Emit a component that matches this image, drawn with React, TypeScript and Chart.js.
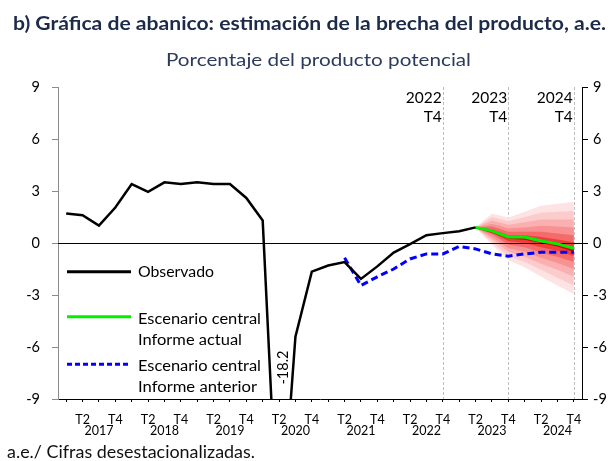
import React, { useEffect, useRef } from 'react';
import { Chart, registerables } from 'chart.js';

Chart.register(...registerables);

// ---------- data ----------
const years = ['2017', '2018', '2019', '2020', '2021', '2022', '2023', '2024'];
const quarters = ['T1', 'T2', 'T3', 'T4'];
const quarterTicks = ['', 'T2', '', 'T4'];
const categories = years.flatMap((y) => quarters.map((q) => `${y}${q}`));

const observadoStart = '2017T1';
const observado = [
  1.7, 1.6, 1.0, 2.05,
  3.4, 2.95, 3.5, 3.4,
  3.5, 3.4, 3.4, 2.6,
  1.3, -18.2, -5.4, -1.65,
  -1.3, -1.1, -2.07, -1.35,
  -0.55, -0.07, 0.45, 0.57,
  0.68, 0.9,
];

const actualStart = '2023T2';
const escenarioActual = [0.9, 0.7, 0.35, 0.35, 0.12, -0.05, -0.3];

const anteriorStart = '2021T2';
const escenarioAnterior = [
  -0.85, -2.45, -1.95, -1.5, -0.92, -0.63, -0.63, -0.2, -0.34, -0.63, -0.76, -0.63, -0.53, -0.53, -0.53,
];

const fanStart = '2023T2';
const fanMedian = [0.9, 0.65, 0.3, 0.25, 0.05, -0.15, -0.45];
const fanUpper1 = [0.9, 1.7, 1.45, 1.8, 2.15, 2.27, 2.36];
const fanLower1 = [0.9, -0.1, -1.0, -1.4, -1.95, -2.45, -2.94];
const fanUpper2 = [0.9, 1.5, 1.25, 1.5, 1.75, 1.8, 1.85];
const fanLower2 = [0.9, 0.05, -0.75, -1.1, -1.55, -2.0, -2.45];
const fanUpper3 = [0.9, 1.3, 1.05, 1.2, 1.35, 1.35, 1.35];
const fanLower3 = [0.9, 0.2, -0.5, -0.8, -1.2, -1.55, -1.95];
const fanUpper4 = [0.9, 1.1, 0.85, 0.9, 1.0, 0.95, 0.9];
const fanLower4 = [0.9, 0.35, -0.3, -0.5, -0.85, -1.15, -1.5];
const fanUpper5 = [0.9, 0.95, 0.65, 0.65, 0.65, 0.55, 0.45];
const fanLower5 = [0.9, 0.5, -0.1, -0.25, -0.55, -0.8, -1.1];
const fanUpper6 = [0.9, 0.8, 0.45, 0.45, 0.35, 0.2, 0.05];
const fanLower6 = [0.9, 0.6, 0.1, 0.0, -0.25, -0.45, -0.75];

const markerQuarters = ['2022T4', '2023T4', '2024T4'];
const markerYears = ['2022', '2023', '2024'];
const markerQuarterLabel = 'T4';

const troughLabel = '-18.2';
const yMin = -9;
const yMax = 9;
const yStep = 3;

const titleText = 'b) Gráfica de abanico: estimación de la brecha del producto, a.e.';
const subtitleText = 'Porcentaje del producto potencial';
const footerText = 'a.e./ Cifras desestacionalizadas.';
const legendObservado = 'Observado';
const legendActual = ['Escenario central', 'Informe actual'];
const legendAnterior = ['Escenario central', 'Informe anterior'];

// ---------- helpers ----------
const FONT = 'Lato, "Open Sans", sans-serif';

function place(start: string, values: number[]): (number | null)[] {
  const idx = categories.indexOf(start);
  return categories.map((_, i) => (i >= idx && i - idx < values.length ? values[i - idx] : null));
}

function fitText(
  ctx: CanvasRenderingContext2D,
  text: string,
  x: number,
  y: number,
  width: number,
  size: number,
  weight: string,
  color: string
) {
  ctx.save();
  ctx.font = `${weight} ${size}px ${FONT}`;
  ctx.fillStyle = color;
  ctx.textBaseline = 'alphabetic';
  ctx.textAlign = 'left';
  const w = ctx.measureText(text).width;
  ctx.translate(x, y);
  ctx.scale(width / w, 1);
  ctx.fillText(text, 0, 0);
  ctx.restore();
}

const fanColors = ['#fde3e3', '#fccccc', '#fab0b0', '#f89191', '#f56a6a', '#f03c3c'];
const fanBands = [
  [fanUpper1, fanLower1],
  [fanUpper2, fanLower2],
  [fanUpper3, fanLower3],
  [fanUpper4, fanLower4],
  [fanUpper5, fanLower5],
  [fanUpper6, fanLower6],
];

const decorPlugin = {
  id: 'decor',
  beforeDatasetsDraw(chart: any) {
    const { ctx, chartArea, scales } = chart;
    ctx.save();
    ctx.strokeStyle = '#bdbdbd';
    ctx.lineWidth = 1;
    ctx.setLineDash([3, 2]);
    markerQuarters.forEach((q) => {
      const x = Math.round(scales.x.getPixelForValue(categories.indexOf(q))) + 0.5;
      ctx.beginPath();
      ctx.moveTo(x, chartArea.top);
      ctx.lineTo(x, chartArea.bottom);
      ctx.stroke();
    });
    ctx.restore();
  },
  afterDatasetDraw(chart: any, args: any) {
    if (args.meta.label !== 'fanMedian') return;
    const { ctx, chartArea, scales } = chart;
    const y = Math.round(scales.y.getPixelForValue(0)) + 0.5;
    ctx.save();
    ctx.strokeStyle = '#000';
    ctx.lineWidth = 1;
    ctx.beginPath();
    ctx.moveTo(chartArea.left, y);
    ctx.lineTo(chartArea.right, y);
    ctx.stroke();
    ctx.restore();
  },
  afterDraw(chart: any) {
    const { ctx, scales } = chart;
    // titles
    fitText(ctx, titleText, 13, 29.5, 593, 18.5, 'bold', '#1d2b4a');
    fitText(ctx, subtitleText, 166, 66, 305, 17.5, 'normal', '#2c3b5c');
    fitText(ctx, footerText, 7, 457.5, 248, 17.5, 'normal', '#111111');

    // marker labels
    ctx.save();
    ctx.font = `normal 15.5px ${FONT}`;
    ctx.fillStyle = '#000';
    ctx.textAlign = 'right';
    ctx.textBaseline = 'alphabetic';
    markerQuarters.forEach((q, i) => {
      const x = scales.x.getPixelForValue(categories.indexOf(q)) - 1;
      ctx.fillText(markerYears[i], x, 102.7);
      ctx.fillText(markerQuarterLabel, x, 121.7);
    });
    ctx.restore();

    // trough label
    ctx.save();
    ctx.font = `normal 14.5px ${FONT}`;
    ctx.fillStyle = '#000';
    ctx.textAlign = 'center';
    ctx.textBaseline = 'middle';
    ctx.translate(283, 367.5);
    ctx.rotate(-Math.PI / 2);
    ctx.fillText(troughLabel, 0, 0);
    ctx.restore();

    // legend
    const lx0 = 67;
    const lx1 = 131;
    const tx = 138;
    ctx.save();
    ctx.lineWidth = 3;
    ctx.strokeStyle = '#000';
    ctx.beginPath();
    ctx.moveTo(lx0, 271.7);
    ctx.lineTo(lx1, 271.7);
    ctx.stroke();
    ctx.strokeStyle = '#00f000';
    ctx.beginPath();
    ctx.moveTo(lx0, 316.7);
    ctx.lineTo(lx1, 316.7);
    ctx.stroke();
    ctx.strokeStyle = '#0000ff';
    ctx.setLineDash([5, 3]);
    ctx.beginPath();
    ctx.moveTo(lx0, 364.3);
    ctx.lineTo(lx1, 364.3);
    ctx.stroke();
    ctx.restore();
    fitText(ctx, legendObservado, tx, 276.7, 76, 15.5, 'normal', '#000');
    fitText(ctx, legendActual[0], tx, 324, 123, 15.5, 'normal', '#000');
    fitText(ctx, legendActual[1], tx, 345, 104, 15.5, 'normal', '#000');
    fitText(ctx, legendAnterior[0], tx, 370.7, 123, 15.5, 'normal', '#000');
    fitText(ctx, legendAnterior[1], tx, 392, 119, 15.5, 'normal', '#000');
  },
};

export default function App() {
  const canvasRef = useRef<HTMLCanvasElement | null>(null);

  useEffect(() => {
    if (!canvasRef.current) return;

    const datasets: any[] = [];
    fanBands.forEach(([up, lo], i) => {
      datasets.push({
        label: `fanUpper${i + 1}`,
        data: place(fanStart, up),
        borderWidth: 0,
        borderColor: 'rgba(0,0,0,0)',
        backgroundColor: fanColors[i],
        fill: '+1',
        pointRadius: 0,
        order: 20 - i,
      });
      datasets.push({
        label: `fanLower${i + 1}`,
        data: place(fanStart, lo),
        borderWidth: 0,
        borderColor: 'rgba(0,0,0,0)',
        fill: false,
        pointRadius: 0,
        order: 20 - i,
      });
    });
    datasets.push({
      label: 'fanMedian',
      data: place(fanStart, fanMedian),
      borderColor: '#e00000',
      borderWidth: 2,
      fill: false,
      pointRadius: 0,
      order: 5,
    });
    datasets.push({
      label: 'anterior',
      data: place(anteriorStart, escenarioAnterior),
      borderColor: '#0000ff',
      borderWidth: 3,
      borderDash: [7, 4],
      fill: false,
      pointRadius: 0,
      order: 3,
    });
    datasets.push({
      label: 'actual',
      data: place(actualStart, escenarioActual),
      borderColor: '#00f000',
      borderWidth: 3,
      fill: false,
      pointRadius: 0,
      order: 2,
    });
    datasets.push({
      label: 'observado',
      data: place(observadoStart, observado),
      borderColor: '#000000',
      borderWidth: 2.5,
      fill: false,
      pointRadius: 0,
      order: 1,
    });

    const chart = new Chart(canvasRef.current, {
      type: 'line',
      data: { labels: categories, datasets },
      plugins: [decorPlugin],
      options: {
        responsive: false,
        animation: false,
        devicePixelRatio: 1,
        layout: { padding: { top: 87, bottom: 22, left: 0, right: 0 } },
        elements: { line: { tension: 0 }, point: { radius: 0 } },
        plugins: {
          legend: { display: false },
          tooltip: { enabled: false },
          title: { display: false },
        },
        scales: {
          x: {
            type: 'category',
            offset: true,
            grid: { drawOnChartArea: false, drawTicks: true, tickLength: 3, color: '#000', offset: false },
            border: { color: '#000', width: 1 },
            ticks: {
              autoSkip: false,
              maxRotation: 0,
              minRotation: 0,
              padding: 12,
              color: '#000',
              font: { family: FONT, size: 12.5, lineHeight: 0.88 },
              callback: (_v: any, index: number) => {
                const q = index % 4;
                const yr = q === 2 ? years[Math.floor(index / 4)] : '';
                return [quarterTicks[q], yr];
              },
            },
            afterFit: (s: any) => {
              s.height = 40;
            },
          },
          y: {
            position: 'left',
            min: yMin,
            max: yMax,
            grid: { drawOnChartArea: false, tickLength: 6, color: '#8c8c8c' },
            border: { color: '#8c8c8c', width: 1 },
            ticks: { stepSize: yStep, padding: 12, color: '#000', font: { family: FONT, size: 14.5 } },
            afterFit: (s: any) => {
              s.width = 58;
            },
          },
          y2: {
            position: 'right',
            min: yMin,
            max: yMax,
            grid: { drawOnChartArea: false, tickLength: 6, color: '#000' },
            border: { color: '#000', width: 1 },
            ticks: { stepSize: yStep, padding: 5, color: '#000', font: { family: FONT, size: 14.5 } },
            afterFit: (s: any) => {
              s.width = 31;
            },
          },
        },
      } as any,
    });

    return () => chart.destroy();
  }, []);

  return (
    <div style={{ position: 'absolute', left: 0, top: 0, width: 613, height: 461, background: '#fff' }}>
      <canvas ref={canvasRef} width={613} height={461} style={{ display: 'block' }} />
    </div>
  );
}
